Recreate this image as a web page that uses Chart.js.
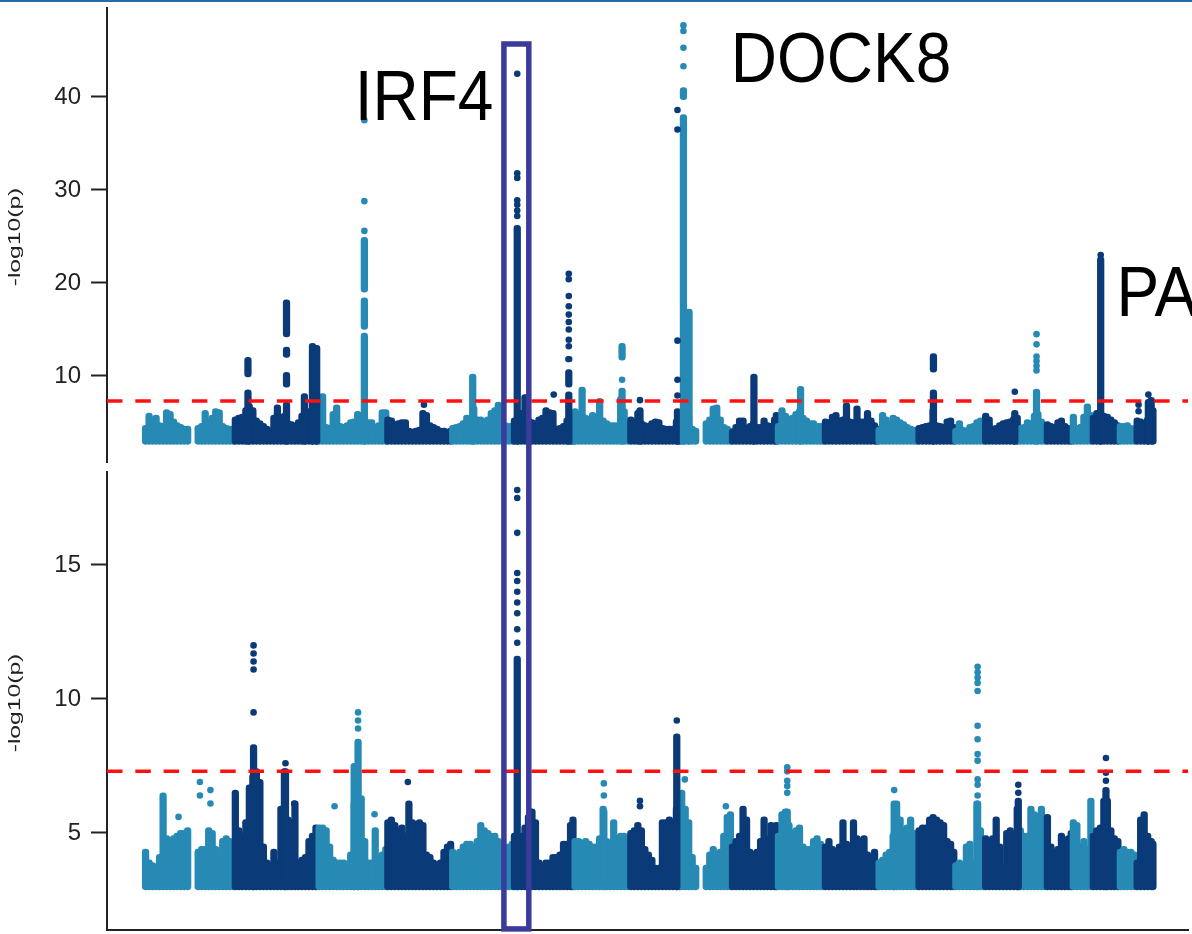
<!DOCTYPE html>
<html>
<head>
<meta charset="utf-8">
<title>Manhattan plots</title>
<script src="https://cdn.jsdelivr.net/npm/chart.js@4.4.0/dist/chart.umd.min.js"></script>
<style>
  html, body { margin: 0; padding: 0; background: #ffffff; }
  #page { position: relative; width: 1192px; height: 934px; overflow: hidden; background: #ffffff; }
  #rule { position: absolute; left: 0; top: 0; width: 1192px; height: 2px; background: #2a6aa8; z-index: 2; }
  .panel { position: absolute; left: 0; width: 1192px; height: 467px; }
  #upper { top: 0; }
  #lower { top: 467px; }
</style>
</head>
<body>
<div id="page">
  <div id="rule"></div>
  <div class="panel" id="upper"><canvas id="upperChart" width="1192" height="467"></canvas></div>
  <div class="panel" id="lower"><canvas id="lowerChart" width="1192" height="467"></canvas></div>
</div>
<script>
// ---- genome layout: plotted span of chr1..chr22 (Mb) ----
const chromSpanMb = [256, 239, 196, 185, 176, 173, 159, 145, 145, 131, 134, 153, 114, 105, 85, 99, 77, 74, 57, 77, 48, 51];
const binMb = 10;               // width of one background bin
const minLogP = 3;              // SNPs below -log10(p) = 3 are not plotted
const gwThreshold = 7.3;        // genome-wide significance, -log10(5e-8)

// ---- x range (cumulative Mb) ----
const xMin = -105;
const xMax = 2978;

// ---- y axes ----
const upperYRange = [0.75, 49.57];
const upperTicks = [10, 20, 30, 40];
const lowerYRange = [1.38, 18.47];
const lowerTicks = [5, 10, 15];

// ---- upper study: top of the dense SNP cloud per 10 Mb bin, per chromosome ----
const upperBandTops = [
  [4.7, 6.0, 5.6, 5.8, 5.0, 4.9, 6.4, 6.2, 5.4, 5.0, 4.8, 4.6, 4.6, null, null, 4.7, 4.9, 6.3, 5.4, 5.8, 6.5, 6.4, 4.9, 4.7, 4.6, 4.6],
  [5.6, 5.8, 5.9, 6.6, 7.0, 6.6, 5.5, 5.2, 4.9, 4.6, 4.4, 5.8, 6.9, 5.2, 6.0, 5.2, 5.1, 4.9, 5.3, 6.0, 6.2, 6.5, 7.5, 7.5],
  [6.0, 8.1, 4.8, 4.7, 6.2, 6.9, 4.9, 4.8, 5.0, 5.3, 5.4, 6.2, 5.6, 5.2, 5.3, 5.3, 4.8, 5.0, 6.4, 6.4],
  [5.6, 5.5, 5.1, 5.2, 5.3, 5.3, 4.4, 4.3, 4.4, 4.5, 6.3, 6.1, 5.0, 4.8, 4.6, 4.4, 4.4, 4.3, 4.4],
  [4.7, 4.8, 4.9, 5.2, 5.8, 5.4, 6.8, 5.6, 5.6, 5.4, 5.6, 6.3, 6.6, 7.2, 6.0, 5.0, 4.9, 4.9],
  [5.5, 5.0, 6.3, 8.0, 5.5, 5.3, 5.2, 5.6, 5.8, 6.6, 6.4, 6.3, 4.6, 4.7, 4.9, 5.5, 4.8, 4.8],
  [6.5, 6.2, 8.8, 5.8, 5.4, 6.1, 5.6, 7.6, 5.5, 5.2, 5.0, 5.0, 5.0, 7.8, 6.5, 5.0],
  [5.6, 5.4, 6.3, 5.2, 5.0, 4.9, 5.2, 5.4, 5.3, 4.7, 4.6, 4.6, 4.6, 5.4, 5.0],
  [5.6, 6.0, 5.8, 4.6, 4.4, null, null, 5.2, 5.6, 6.8, 6.9, 5.6, 4.8, 4.6, 4.4],
  [4.3, 4.8, 5.5, 5.5, 4.7, 4.9, 5.2, 4.8, 4.8, 5.5, 5.0, 4.9, 5.6, 6.1],
  [4.9, 6.6, 6.0, 5.6, 5.8, 6.2, 6.5, 5.8, 5.5, 5.2, 5.2, 4.9, 4.9, 4.6],
  [5.4, 5.3, 5.9, 6.1, 5.5, 5.6, 7.1, 5.4, 5.3, 6.8, 5.4, 5.4, 6.3, 5.5, 5.0, 4.6],
  [4.5, 6.1, 5.6, 5.1, 5.8, 5.6, 5.3, 5.1, 4.8, 4.6, 4.5, 4.4],
  [4.7, 4.8, 4.9, 5.0, 6.6, 5.0, 4.9, 4.8, 5.4, 5.5, 4.8],
  [4.4, 5.2, 4.5, 4.4, 4.8, 4.9, 5.3, 5.5, 5.4],
  [6.0, 5.6, 4.6, 4.7, 5.0, 5.2, 5.3, 5.4, 5.7, 5.8],
  [4.7, 4.8, 5.3, 5.2, 6.0, 6.2, 5.4, 4.9],
  [5.1, 4.9, 4.8, 5.3, 5.5, 4.9, 4.7, 4.6],
  [5.9, 4.7, 4.8, 5.9, 7.0, 6.1],
  [5.8, 6.3, 6.3, 6.0, 5.9, 5.6, 5.3, 5.0],
  [4.9, 4.9, 5.0, 4.7, 4.6],
  [5.5, 5.4, 5.2, 5.6, 7.7, 6.6]
];
// upper study: unbroken stacks of SNPs [chromosome, position Mb, low, high]
const upperStacks = [
  [2, 41, 9.9, 12.0], [2, 41, 3, 8.5],
  [2, 151, 14.2, 18.2], [2, 151, 12.0, 13.1], [2, 151, 8.8, 10.4], [2, 151, 3, 7.2],
  [2, 202, 3, 8.1], [2, 225, 3, 13.5], [2, 237, 3, 13.3],
  [3, 134, 19.0, 24.9], [3, 134, 15.0, 18.4], [3, 134, 3, 14.6],
  [5, 62, 3, 10.2],
  [6, 13, 3, 26.2],
  [6, 160, 11.5, 12.1], [6, 160, 8.8, 10.7], [6, 160, 3, 8.3],
  [7, 139, 11.7, 13.5], [7, 139, 3, 8.7],
  [8, 31, 3, 6.6], [8, 138, 3, 6.5],
  [9, 10, 39.7, 41.0], [9, 10, 3, 38.1], [9, 26, 3, 17.2],
  [10, 66, 3, 10.2],
  [11, 68, 3, 8.9],
  [14, 46, 10.4, 12.4], [14, 46, 3, 8.5],
  [16, 88, 3, 6.3],
  [17, 51, 3, 8.6],
  [20, 26, 3, 22.8],
  [22, 37, 3, 7.5]
];
// upper study: isolated SNPs [chromosome, position Mb, -log10(p)]
const upperSnps = [
  [3, 134, 37.5], [3, 134, 28.8], [3, 134, 25.6],
  [4, 108, 6.9],
  [6, 13, 42.5], [6, 13, 31.8], [6, 13, 31.3], [6, 13, 28.9], [6, 13, 28.4], [6, 13, 27.8], [6, 13, 27.2],
  [6, 117, 8.0],
  [6, 160, 21.0], [6, 160, 20.4], [6, 160, 18.6], [6, 160, 17.5], [6, 160, 16.6], [6, 160, 15.8], [6, 160, 15.0], [6, 160, 13.9], [6, 160, 13.2],
  [7, 139, 9.6],
  [8, 31, 7.4],
  [8, 138, 38.6], [8, 138, 36.5], [8, 138, 13.8], [8, 138, 9.6], [8, 138, 7.9],
  [9, 10, 47.7], [9, 10, 47.1], [9, 10, 45.3], [9, 10, 43.3],
  [16, 88, 8.3],
  [17, 51, 14.5], [17, 51, 13.4], [17, 51, 12.1], [17, 51, 11.6], [17, 51, 11.1], [17, 51, 10.6],
  [20, 26, 23.0],
  [22, 9, 6.9], [22, 9, 6.2], [22, 37, 8.0]
];

// ---- lower study ----
const lowerBandTops = [
  [4.4, 4.0, 3.9, 3.6, 4.2, 6.5, 4.9, 4.7, 4.9, 5.0, 5.1, 5.1, 5.2, null, null, 4.4, 4.5, 4.5, 5.2, 5.1, 4.5, 4.2, 4.8, 4.9, 4.8, 4.6],
  [6.6, 5.2, 5.0, 5.5, 6.8, 7.2, 7.4, 7.0, 4.6, 4.0, 3.9, 4.4, 4.0, 6.0, 7.4, 5.6, 5.5, 6.2, 4.0, 4.1, 4.2, 4.8, 5.0, 5.3],
  [5.3, 5.3, 5.2, 4.6, 4.1, 4.0, 4.0, 4.0, 3.8, 4.3, 6.2, 7.3, 6.4, 4.8, 4.0, 4.0, 5.2, 4.2, 4.3, 4.5],
  [5.5, 5.6, 5.4, 5.2, 5.3, 5.0, 6.2, 5.5, 4.8, 5.5, 5.4, 4.3, 4.2, 4.0, 3.7, 4.0, 4.4, 4.6, 4.7],
  [4.4, 4.3, 4.4, 4.6, 4.7, 4.7, 4.6, 4.8, 5.4, 5.2, 5.1, 5.0, 5.0, 4.8, 4.6, 4.5, 4.6, 4.7],
  [5.0, 5.0, 5.0, 5.3, 5.7, 5.9, 5.5, 4.0, 3.9, 4.0, 4.0, 4.2, 4.2, 4.3, 4.7, 4.7, 5.4, 5.6],
  [4.8, 4.8, 4.7, 4.8, 4.7, 4.6, 4.6, 4.9, 6.0, 4.8, 4.6, 5.5, 4.9, 5.0, 5.0, 4.9],
  [5.1, 5.2, 5.4, 5.2, 4.5, 4.3, 4.1, 3.8, 3.8, 5.5, 5.5, 5.6, 5.4, 6.0, 5.0],
  [6.6, 6.0, 5.5, 4.2, 3.8, null, null, 3.8, 4.3, 4.5, 4.3, 4.4, 5.0, 5.7, 5.8],
  [4.6, 4.8, 5.0, 6.0, 5.6, 4.4, 4.3, 4.4, 4.8, 5.6, 4.9, 5.4, 4.8, 5.4],
  [5.0, 5.8, 5.9, 5.4, 5.1, 5.2, 5.3, 4.6, 4.5, 4.5, 4.8, 4.9, 4.7, 4.5],
  [4.6, 4.8, 4.5, 4.4, 4.6, 5.5, 4.7, 4.6, 5.5, 4.9, 4.8, 4.9, 4.3, 4.2, 4.4, 4.0],
  [4.0, 4.1, 4.3, 4.4, 5.0, 6.2, 5.6, 5.2, 5.3, 5.6, 5.1, 4.9],
  [5.2, 5.3, 5.3, 5.6, 5.7, 5.6, 5.5, 5.4, 4.8, 4.7, 4.4],
  [3.9, 4.0, 3.9, 4.6, 4.7, 4.0, 6.2, 5.2, 4.2],
  [4.9, 4.8, 4.9, 5.6, 4.6, 3.8, 5.1, 5.2, 5.0, 6.0],
  [5.2, 5.0, 5.0, 6.0, 5.8, 5.6, 6.0, 5.2],
  [5.7, 4.6, 4.4, 4.5, 5.0, 4.7, 4.9, 5.1],
  [5.5, 5.4, 4.6, 4.8, 4.5, 6.3],
  [5.0, 5.2, 5.3, 6.3, 6.3, 5.2, 4.9, 4.8],
  [4.4, 4.5, 4.4, 4.4, 4.3],
  [4.0, 5.6, 5.8, 5.0, 4.8, 4.7]
];
const lowerStacks = [
  [2, 57, 3, 8.3], [2, 148, 3, 7.4],
  [3, 105, 3, 7.6], [3, 116, 3, 8.5],
  [6, 13, 3, 11.6],
  [7, 87, 3, 5.9],
  [8, 136, 3, 8.7],
  [11, 30, 3, 5.9],
  [13, 48, 3, 6.2],
  [15, 67, 3, 6.2],
  [16, 98, 3, 6.3],
  [20, 41, 3, 6.7]
];
const lowerSnps = [
  [1, 99, 5.6], [1, 160, 6.9], [1, 160, 6.4], [1, 190, 6.6], [1, 190, 6.1],
  [2, 57, 12.0], [2, 57, 11.7], [2, 57, 11.4], [2, 57, 11.1], [2, 57, 9.5],
  [2, 148, 7.6], [2, 173, 6.1],
  [3, 116, 9.5], [3, 116, 9.2], [3, 116, 8.9], [3, 49, 6.0], [3, 163, 5.7],
  [4, 62, 6.9],
  [6, 13, 17.8], [6, 13, 17.5], [6, 13, 16.2], [6, 13, 14.7], [6, 13, 14.4], [6, 13, 14.0],
  [6, 13, 13.6], [6, 13, 13.2], [6, 13, 12.6], [6, 13, 12.1],
  [7, 87, 6.85], [7, 87, 6.4],
  [8, 31, 6.2], [8, 31, 6.0], [8, 136, 9.2],
  [9, 14, 7.0], [9, 131, 6.0],
  [11, 30, 7.45], [11, 30, 7.3], [11, 30, 6.95], [11, 30, 6.75], [11, 30, 6.5],
  [13, 48, 6.6],
  [15, 67, 11.2], [15, 67, 11.0], [15, 67, 10.8], [15, 67, 10.6], [15, 67, 10.3], [15, 67, 9.0],
  [15, 67, 8.5], [15, 67, 7.95], [15, 67, 7.7], [15, 67, 7.0], [15, 67, 6.8], [15, 67, 6.4],
  [16, 98, 6.8], [16, 98, 6.5],
  [20, 41, 7.8], [20, 41, 7.25], [20, 41, 6.95]
];

// ---- annotations ----
const geneLabelText = ['IRF4', 'DOCK8', 'PA'];
const geneLabelMb = [997, 1674, 2774];
const geneLabelLogP = [37.5, 41.6, 16.45];
const geneLabelAlign = ['right', 'left', 'left'];
const highlightMb = [1027, 1098];        // frame around the IRF4 locus
const highlightUpperTop = 45.7;          // frame top edge in the upper study
const highlightLowerBottom = 1.42;       // frame bottom edge in the lower study

// ---- styling ----
const LIGHT = '#278ab4';
const DARK = '#0b3a78';
const AXIS = '#222222';
const FONT = '"Liberation Sans", Arial, Helvetica, sans-serif';
const DOT_R = 3.3;

const chromOffset = [];
chromSpanMb.reduce((acc, len, i) => { chromOffset[i] = acc; return acc + len; }, 0);
const chromColor = chr => (chr % 2 === 1 ? LIGHT : DARK);
const toGenome = (chr, pos) => chromOffset[chr - 1] + pos;

function bandData(bandTops, floor) {
  const pts = [], colors = [];
  bandTops.forEach((tops, k) => {
    tops.forEach((top, i) => {
      if (top == null) return;
      const pos = Math.min(i * binMb + binMb / 2, chromSpanMb[k] - 1);
      pts.push({ x: toGenome(k + 1, pos), y: [floor, top] });
      colors.push(chromColor(k + 1));
    });
  });
  return { pts, colors };
}
function stackData(stacks, floor) {
  return {
    pts: stacks.map(([c, p, lo, hi]) => ({ x: toGenome(c, p), y: [lo <= minLogP ? floor : lo, hi] })),
    colors: stacks.map(s => chromColor(s[0]))
  };
}
function snpData(snps) {
  return {
    pts: snps.map(([c, p, v]) => ({ x: toGenome(c, p), y: v })),
    colors: snps.map(s => chromColor(s[0]))
  };
}

// labels, y-axis title and highlight frame
const overlayPlugin = {
  id: 'overlay',
  afterDraw(chart, args, opts) {
    const { ctx, chartArea } = chart;
    const xs = chart.scales.x, ys = chart.scales.y;
    ctx.save();
    ctx.translate(opts.titleX, (chartArea.top + chartArea.bottom) / 2 + 2);
    ctx.rotate(-Math.PI / 2);
    ctx.scale(opts.titleStretch, 1);
    ctx.font = opts.titleSize + 'px ' + FONT;
    ctx.fillStyle = AXIS;
    ctx.textAlign = 'center';
    ctx.textBaseline = 'middle';
    ctx.fillText('-log10(p)', 0, 0);
    ctx.restore();

    if (opts.genes) {
      geneLabelText.forEach((t, i) => {
        ctx.save();
        ctx.translate(xs.getPixelForValue(geneLabelMb[i]), ys.getPixelForValue(geneLabelLogP[i]));
        ctx.scale(1, 1.1);
        ctx.font = '64px ' + FONT;
        ctx.fillStyle = '#000000';
        ctx.textAlign = geneLabelAlign[i];
        ctx.textBaseline = 'alphabetic';
        ctx.fillText(t, 0, 0);
        ctx.restore();
      });
    }

    const x1 = xs.getPixelForValue(highlightMb[0]);
    const x2 = xs.getPixelForValue(highlightMb[1]);
    const y1 = opts.frameTop == null ? -20 : ys.getPixelForValue(opts.frameTop);
    const y2 = opts.frameBottom == null ? chart.height + 20 : ys.getPixelForValue(opts.frameBottom);
    ctx.save();
    ctx.strokeStyle = '#3b3b9c';
    ctx.lineWidth = 5.5;
    ctx.lineJoin = 'miter';
    ctx.strokeRect(x1, y1, x2 - x1, y2 - y1);
    ctx.restore();
  }
};

const barStyle = {
  barThickness: DOT_R * 2,
  borderRadius: DOT_R,
  borderSkipped: false,
  borderWidth: 0,
  grouped: false
};

function makeChart(id, cfg) {
  const floor = cfg.floor;
  const band = bandData(cfg.band, floor);
  const stacks = stackData(cfg.stacks, floor);
  const snps = snpData(cfg.snps);
  return new Chart(document.getElementById(id), {
    type: 'bar',
    data: {
      datasets: [
        { type: 'line', data: [{ x: xMin, y: gwThreshold }, { x: xMax, y: gwThreshold }],
          borderColor: '#ff1010', borderWidth: 3.5, borderDash: [15.5, 12.8], pointRadius: 0, fill: false, order: 0 },
        { type: 'scatter', data: snps.pts, pointBackgroundColor: snps.colors, pointBorderWidth: 0, pointRadius: DOT_R, order: 1 },
        Object.assign({ type: 'bar', data: stacks.pts, backgroundColor: stacks.colors, order: 2 }, barStyle),
        Object.assign({ type: 'bar', data: band.pts, backgroundColor: band.colors, order: 3 }, barStyle)
      ]
    },
    options: {
      responsive: false,
      animation: false,
      events: [],
      layout: { padding: { top: cfg.padTop, bottom: cfg.padBottom, left: 0, right: 0 } },
      plugins: {
        legend: { display: false },
        tooltip: { enabled: false },
        overlay: cfg.overlay
      },
      scales: {
        x: {
          type: 'linear', min: xMin, max: xMax, offset: false,
          display: cfg.showX,
          grid: { display: false },
          ticks: { display: false },
          border: { display: cfg.showX, color: AXIS, width: 2 },
          afterFit: s => { s.height = 0; s.paddingLeft = 0; s.paddingRight = 0; }
        },
        y: {
          type: 'linear', min: cfg.yRange[0], max: cfg.yRange[1],
          afterFit: s => { s.width = 107; s.paddingTop = 0; s.paddingBottom = 0; },
          afterBuildTicks: s => { s.ticks = cfg.ticks.map(v => ({ value: v })); },
          grid: { display: true, drawOnChartArea: false, drawTicks: true, tickLength: 16, tickWidth: 2, tickColor: AXIS },
          border: { display: true, color: AXIS, width: 2 },
          ticks: { color: AXIS, font: { family: FONT, size: 24 }, padding: 10 }
        }
      }
    },
    plugins: [overlayPlugin]
  });
}

makeChart('upperChart', {
  band: upperBandTops, stacks: upperStacks, snps: upperSnps,
  floor: 2.65, yRange: upperYRange, ticks: upperTicks,
  padTop: 8, padBottom: 5, showX: false,
  overlay: { titleX: 15, titleSize: 17, titleStretch: 1.45, genes: true, frameTop: highlightUpperTop, frameBottom: null }
});
makeChart('lowerChart', {
  band: lowerBandTops, stacks: lowerStacks, snps: lowerSnps,
  floor: 2.88, yRange: lowerYRange, ticks: lowerTicks,
  padTop: 5, padBottom: 4, showX: true,
  overlay: { titleX: 15, titleSize: 17, titleStretch: 1.45, genes: false, frameTop: null, frameBottom: highlightLowerBottom }
});
</script>
</body>
</html>
